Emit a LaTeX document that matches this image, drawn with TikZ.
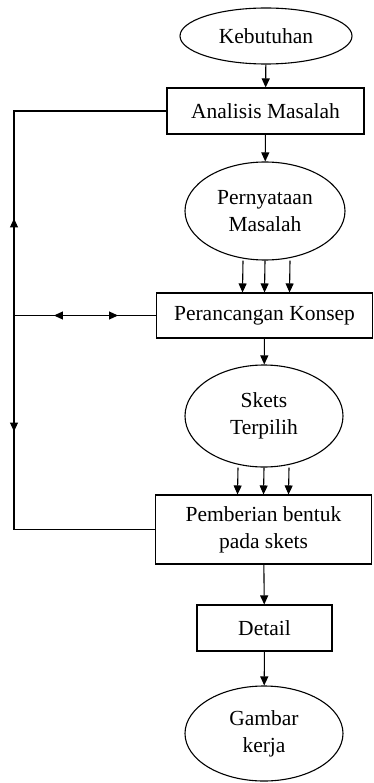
\documentclass[tikz,border=0pt]{standalone}
\usepackage{fontspec}
\setmainfont{Liberation Serif}
\usetikzlibrary{shapes.geometric,arrows.meta}

\begin{document}
\begin{tikzpicture}[x=1pt,y=-1pt,
    every node/.style={font=\fontsize{21.5}{27}\selectfont, align=center, inner sep=0pt},
    oval/.style={draw, ellipse, line width=1.1pt},
    kotak/.style={draw, rectangle, line width=1.1pt},
    panah/.style={line width=1.1pt, -{Triangle[length=9pt,width=8pt]}},
    garis/.style={line width=1.1pt}]
  \useasboundingbox (0,0) rectangle (373,783);

  % alur utama
  \node[oval, minimum width=172, minimum height=56] (keb) at (266,36) {Kebutuhan};
  \node[kotak, minimum width=197, minimum height=46] (ana) at (265.5,111) {Analisis Masalah};
  \node[oval, minimum width=160, minimum height=98] (per) at (265,211) {Pernyataan\\Masalah};
  \node[kotak, minimum width=216, minimum height=45] (ran) at (264.5,315.5) {Perancangan Konsep};
  \node[oval, minimum width=158, minimum height=102] (ske) at (264,416) {Skets\\Terpilih};
  \node[kotak, minimum width=216, minimum height=69] (pem) at (263.5,529.5) {Pemberian bentuk\\pada skets};
  \node[kotak, minimum width=135, minimum height=46] (det) at (264.5,628) {Detail};
  \node[oval, minimum width=158, minimum height=95] (gam) at (264,733.5) {Gambar\\kerja};

  \draw[panah] (keb) -- (ana);
  \draw[panah] (ana) -- (per);
  \foreach \d in {-22,0,25}
    \draw[panah] ([xshift=\d]per.south) -- ([xshift=\d]ran.north);
  \draw[panah] (ran) -- (ske);
  \foreach \d in {-26,0,25}
    \draw[panah] ([xshift=\d]ske.south) -- ([xshift=\d]pem.north);
  \draw[panah] (pem) -- (det);
  \draw[panah] (det) -- (gam);

  % umpan balik
  \coordinate (kiri) at (14,315.5);
  \draw[garis] (ana.west) -| (kiri) |- (pem.west);
  \draw[garis] (ran.west) -- (kiri);
  \draw[panah] (kiri) -- ++(0,-97);
  \draw[panah] (kiri) -- ++(0,116);
  \draw[panah] (kiri) -- ++(104,0);
  \draw[panah] (ran.west) -- ++(-102,0);
\end{tikzpicture}
\end{document}
